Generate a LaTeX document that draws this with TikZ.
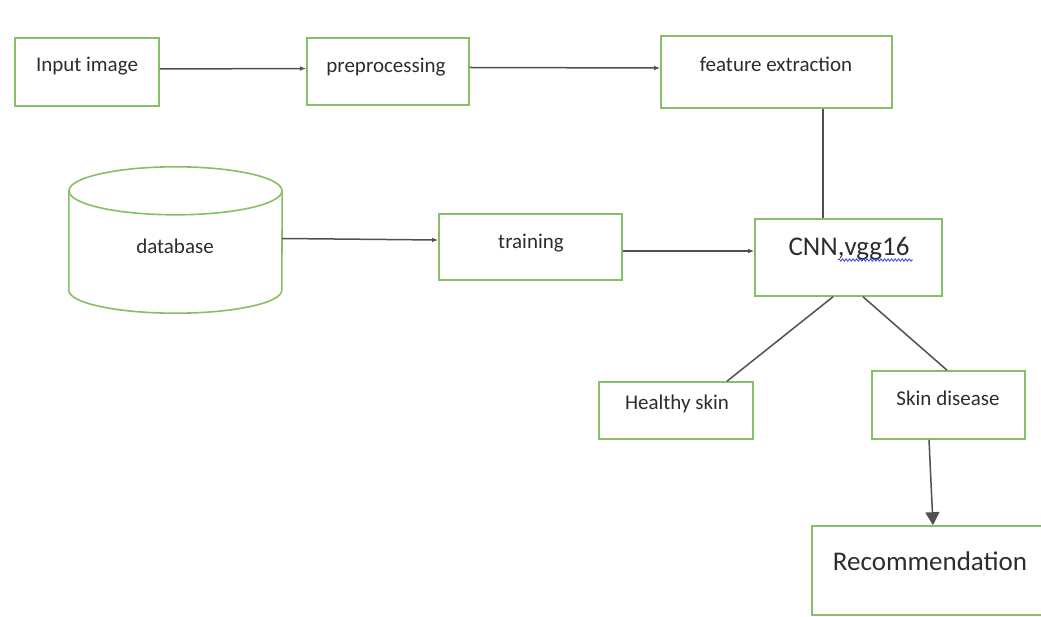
\documentclass[tikz,border=0pt]{standalone}
\usepackage{fontspec}
\setmainfont{Carlito}
\usetikzlibrary{arrows.meta,decorations.pathmorphing}
\definecolor{boxgreen}{RGB}{135,190,105}
\definecolor{linegray}{RGB}{80,80,80}
\definecolor{txtgray}{RGB}{45,45,45}
\definecolor{spellblue}{RGB}{60,60,220}
\tikzset{
  boxnode/.style={draw=boxgreen, line width=1.6pt, inner sep=0pt, fill=white},
  txt/.style={text=txtgray, font=\fontsize{21}{25}\selectfont, inner sep=0pt},
  bigtxt/.style={text=txtgray, font=\fontsize{27}{32}\selectfont, inner sep=0pt},
  conn/.style={draw=linegray, line width=1.5pt},
  smallarrow/.style={conn, -{Latex[length=6pt,width=4.5pt]}},
  bigarrow/.style={conn, -{Triangle[length=13pt,width=14pt]}}
}
\begin{document}
\begin{tikzpicture}[x=1pt,y=-1pt]
\clip (0,0) rectangle (1041,617);
\fill[white] (0,0) rectangle (1041,617);

% boxes
\node[boxnode, minimum width=144pt, minimum height=68pt] (inp) at (87,72) {};
\node[boxnode, minimum width=162pt, minimum height=67pt] (pre) at (388,71.5) {};
\node[boxnode, minimum width=231pt, minimum height=72pt] (feat) at (776.5,72) {};
\node[boxnode, minimum width=187pt, minimum height=77pt] (cnn) at (848.5,257.5) {};
\node[boxnode, minimum width=183pt, minimum height=66pt] (train) at (530.5,247) {};
\node[boxnode, minimum width=154pt, minimum height=57pt] (healthy) at (676,410.5) {};
\node[boxnode, minimum width=153pt, minimum height=68pt] (skin) at (948.5,405) {};
\node[boxnode, minimum width=240pt, minimum height=89pt] (rec) at (932,570.5) {};

% database cylinder
\node[minimum width=213pt, minimum height=99pt, inner sep=0pt] (db) at (175.5,240.5) {};
\draw[boxgreen, line width=1.6pt] (db.north west) -- (db.south west)
  arc[start angle=180, end angle=0, x radius=106.5, y radius=23] -- (db.north east);
\draw[boxgreen, line width=1.6pt] (db.north) ellipse [x radius=106.5, y radius=24];

% texts
\node[txt] (inpT) at (87,66) {Input image};
\node[txt] (preT) at (386,67) {preprocessing};
\node[txt] (featT) at (776,64) {feature extraction};
\node[bigtxt] (cnnT) at (849,249) {CNN,vgg16};
\node[txt] (dbT) at (175,246) {database};
\node[txt] (trainT) at (531,243) {training};
\node[txt] (healthyT) at (677,404) {Healthy skin};
\node[txt] (skinT) at (948,398) {Skin disease};
\node[bigtxt] (recT) at (930,561) {Recommendation};
\draw[spellblue, line width=0.8pt, decorate, decoration={snake, amplitude=1.2pt, segment length=3.5pt}]
  (838,260) -- (913,260);

% connectors
\draw[smallarrow] ([yshift=3pt]inp.east) -- ([yshift=3pt]pre.west);
\draw[smallarrow] ([yshift=4pt]pre.east) -- ([yshift=4pt]feat.west);
\draw[smallarrow] ([yshift=2pt]db.east) -- ([yshift=7pt]train.west);
\draw[smallarrow] ([yshift=-4pt]train.east) -- ([yshift=6.5pt]cnn.west);
\draw[conn] ([xshift=46.5pt]feat.south) -- ([xshift=-25.5pt]cnn.north);
\draw[conn] ([xshift=-15.5pt]cnn.south) -- ([xshift=51pt]healthy.north);
\draw[conn] ([xshift=14.5pt]cnn.south) -- ([xshift=-1.5pt]skin.north);
\draw[bigarrow] ([xshift=-19.5pt]skin.south) -- ([xshift=1pt]rec.north);
\end{tikzpicture}
\end{document}
